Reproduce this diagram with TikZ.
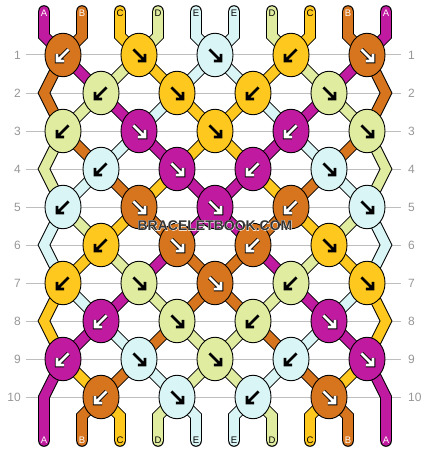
\documentclass[tikz,border=0pt]{standalone}
\usepackage{fontspec}
\setmainfont{Liberation Sans}
\usetikzlibrary{shapes.geometric}
\definecolor{cA}{RGB}{192,26,160}
\definecolor{cB}{RGB}{214,117,30}
\definecolor{cC}{RGB}{255,200,30}
\definecolor{cD}{RGB}{224,236,160}
\definecolor{cE}{RGB}{218,245,245}
\definecolor{rowgray}{RGB}{190,190,190}
\definecolor{numgray}{RGB}{150,150,150}
\definecolor{wmgray}{RGB}{51,51,51}
\pgfdeclarelayer{lines}
\pgfdeclarelayer{threads}
\pgfsetlayers{lines,threads,main}
\tikzset{
  knotnode/.style={ellipse, draw=black, line width=0.9pt, minimum width=36pt, minimum height=43.5pt, inner sep=0pt},
  thread/.style={line width=1pt, double=#1, double distance=9.6pt, line join=miter, line cap=round},
  arr/.style={line width=2.7pt, line join=miter, line cap=square},
  pics/se/.style={code={\draw[arr,#1] (-5.6,-5.6) -- (4.8,4.8) (6,-1.2) -- (6,6) -- (-1.2,6);}},
  pics/sw/.style={code={\draw[arr,#1] (5.6,-5.6) -- (-4.8,4.8) (-6,-1.2) -- (-6,6) -- (1.2,6);}},
  pics/seW/.style={code={\pic{se={black,line width=4.5pt}}; \pic{se=white};}},
  pics/swW/.style={code={\pic{sw={black,line width=4.5pt}}; \pic{sw=white};}},
  numlab/.style={font=\fontsize{12}{12}\selectfont, text=numgray, inner sep=0pt},
  rowline/.style={draw=rowgray, line width=1pt},
  strlab/.style={font=\fontsize{9.5}{9.5}\selectfont, inner sep=0pt},
  wm/.style={font=\fontsize{14}{16}\selectfont\bfseries, text=wmgray, inner sep=0pt}
}
\newcommand\kn[5]{\node[knotnode,fill=#4] (#1) at (#2,#3) {}; \pic at (#2,#3) {#5};}
\newcommand\halotext[1]{\rlap{\color{white}\addfontfeature{FakeBold=4}#1}#1}
\begin{document}
\begin{tikzpicture}[x=1pt,y=-1pt]
\useasboundingbox (0,0) rectangle (430,452);
% coordinates for string ends and edges
\foreach \i in {1,...,10} {
  \pgfmathsetmacro\xx{44+38*(\i-1)}
  \coordinate (T\i) at (\xx,11);
  \coordinate (TB\i) at (\xx,36);
  \coordinate (BB\i) at (\xx,416);
  \coordinate (B\i) at (\xx,441);
}
\foreach \r/\yy in {2/93,4/169,6/245,8/321,10/397} {
  \coordinate (L\r) at (44,\yy);
  \coordinate (R\r) at (386,\yy);
}
% row numbers and lines
\foreach \r in {1,...,10} {
  \pgfmathsetmacro\yy{55+38*(\r-1)}
  \node[numlab,anchor=east] (nl\r) at (21,\yy) {\r};
  \node[numlab,anchor=west] (nr\r) at (408,\yy) {\r};
  \begin{pgfonlayer}{lines}
    \draw[rowline] ([xshift=5pt]nl\r.east) -- ([xshift=-7pt]nr\r.west);
  \end{pgfonlayer}
}
% knots
\kn{k1-1}{63}{55}{cB}{swW}
\kn{k1-2}{139}{55}{cC}{se=black}
\kn{k1-3}{215}{55}{cE}{se=black}
\kn{k1-4}{291}{55}{cC}{sw=black}
\kn{k1-5}{367}{55}{cB}{seW}
\kn{k2-1}{101}{93}{cD}{sw=black}
\kn{k2-2}{177}{93}{cC}{se=black}
\kn{k2-3}{253}{93}{cC}{sw=black}
\kn{k2-4}{329}{93}{cD}{se=black}
\kn{k3-1}{63}{131}{cD}{sw=black}
\kn{k3-2}{139}{131}{cA}{seW}
\kn{k3-3}{215}{131}{cC}{se=black}
\kn{k3-4}{291}{131}{cA}{swW}
\kn{k3-5}{367}{131}{cD}{se=black}
\kn{k4-1}{101}{169}{cE}{sw=black}
\kn{k4-2}{177}{169}{cA}{seW}
\kn{k4-3}{253}{169}{cA}{swW}
\kn{k4-4}{329}{169}{cE}{se=black}
\kn{k5-1}{63}{207}{cE}{sw=black}
\kn{k5-2}{139}{207}{cB}{seW}
\kn{k5-3}{215}{207}{cA}{seW}
\kn{k5-4}{291}{207}{cB}{swW}
\kn{k5-5}{367}{207}{cE}{se=black}
\kn{k6-1}{101}{245}{cC}{sw=black}
\kn{k6-2}{177}{245}{cB}{seW}
\kn{k6-3}{253}{245}{cB}{swW}
\kn{k6-4}{329}{245}{cC}{se=black}
\kn{k7-1}{63}{283}{cC}{sw=black}
\kn{k7-2}{139}{283}{cD}{se=black}
\kn{k7-3}{215}{283}{cB}{seW}
\kn{k7-4}{291}{283}{cD}{sw=black}
\kn{k7-5}{367}{283}{cC}{se=black}
\kn{k8-1}{101}{321}{cA}{swW}
\kn{k8-2}{177}{321}{cD}{se=black}
\kn{k8-3}{253}{321}{cD}{sw=black}
\kn{k8-4}{329}{321}{cA}{seW}
\kn{k9-1}{63}{359}{cA}{swW}
\kn{k9-2}{139}{359}{cE}{se=black}
\kn{k9-3}{215}{359}{cD}{se=black}
\kn{k9-4}{291}{359}{cE}{sw=black}
\kn{k9-5}{367}{359}{cA}{seW}
\kn{k10-1}{101}{397}{cB}{swW}
\kn{k10-2}{177}{397}{cE}{se=black}
\kn{k10-3}{253}{397}{cE}{sw=black}
\kn{k10-4}{329}{397}{cB}{seW}
% threads
\begin{pgfonlayer}{threads}
\draw[thread=cA] (T1) -- (TB1) -- (k1-1.center) -- (k2-1.center) -- (k3-2.center) -- (k4-2.center) -- (k5-3.center) -- (k6-3.center) -- (k7-4.center) -- (k8-4.center) -- (k9-5.center) -- (R10) -- (B10);
\draw[thread=cB] (T2) -- (TB2) -- (k1-1.center) -- (L2) -- (k3-1.center) -- (k4-1.center) -- (k5-2.center) -- (k6-2.center) -- (k7-3.center) -- (k8-3.center) -- (k9-4.center) -- (k10-4.center) -- (BB9) -- (B9);
\draw[thread=cC] (T3) -- (TB3) -- (k1-2.center) -- (k2-2.center) -- (k3-3.center) -- (k4-3.center) -- (k5-4.center) -- (k6-4.center) -- (k7-5.center) -- (R8) -- (k9-5.center) -- (k10-4.center) -- (BB8) -- (B8);
\draw[thread=cD] (T4) -- (TB4) -- (k1-2.center) -- (k2-1.center) -- (k3-1.center) -- (L4) -- (k5-1.center) -- (k6-1.center) -- (k7-2.center) -- (k8-2.center) -- (k9-3.center) -- (k10-3.center) -- (BB7) -- (B7);
\draw[thread=cE] (T5) -- (TB5) -- (k1-3.center) -- (k2-3.center) -- (k3-4.center) -- (k4-4.center) -- (k5-5.center) -- (R6) -- (k7-5.center) -- (k8-4.center) -- (k9-4.center) -- (k10-3.center) -- (BB6) -- (B6);
\draw[thread=cE] (T6) -- (TB6) -- (k1-3.center) -- (k2-2.center) -- (k3-2.center) -- (k4-1.center) -- (k5-1.center) -- (L6) -- (k7-1.center) -- (k8-1.center) -- (k9-2.center) -- (k10-2.center) -- (BB5) -- (B5);
\draw[thread=cD] (T7) -- (TB7) -- (k1-4.center) -- (k2-4.center) -- (k3-5.center) -- (R4) -- (k5-5.center) -- (k6-4.center) -- (k7-4.center) -- (k8-3.center) -- (k9-3.center) -- (k10-2.center) -- (BB4) -- (B4);
\draw[thread=cC] (T8) -- (TB8) -- (k1-4.center) -- (k2-3.center) -- (k3-3.center) -- (k4-2.center) -- (k5-2.center) -- (k6-1.center) -- (k7-1.center) -- (L8) -- (k9-1.center) -- (k10-1.center) -- (BB3) -- (B3);
\draw[thread=cB] (T9) -- (TB9) -- (k1-5.center) -- (R2) -- (k3-5.center) -- (k4-4.center) -- (k5-4.center) -- (k6-3.center) -- (k7-3.center) -- (k8-2.center) -- (k9-2.center) -- (k10-1.center) -- (BB2) -- (B2);
\draw[thread=cA] (T10) -- (TB10) -- (k1-5.center) -- (k2-4.center) -- (k3-4.center) -- (k4-3.center) -- (k5-3.center) -- (k6-2.center) -- (k7-2.center) -- (k8-1.center) -- (k9-1.center) -- (L10) -- (B1);
\end{pgfonlayer}
% string letters
\foreach \i/\l/\c in {1/A/white,2/B/white,3/C/black,4/D/black,5/E/black,6/E/black,7/D/black,8/C/black,9/B/white,10/A/white} {
  \pgfmathsetmacro\xx{44+38*(\i-1)}
  \node[strlab,text=\c] (tl\i) at (\xx,13.5) {\l};
  \node[strlab,text=\c] (bl\i) at (\xx,440.5) {\l};
}
% watermark
\node[wm] (wmark) at (215,225.5) {\halotext{BRACELETBOOK.COM}};
\end{tikzpicture}
\end{document}
